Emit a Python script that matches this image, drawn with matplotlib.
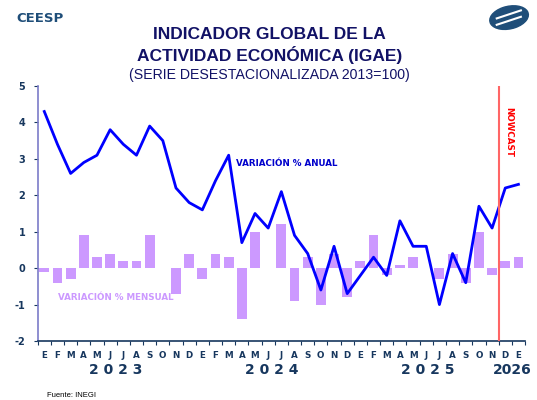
import numpy as np
import matplotlib
matplotlib.use("Agg")
from matplotlib import pyplot as plt
from matplotlib.patches import Ellipse
from matplotlib.transforms import blended_transform_factory

# Datos (ene-2023 a ene-2026)
meses = ['E', 'F', 'M', 'A', 'M', 'J', 'J', 'A', 'S', 'O', 'N', 'D'] * 3 + ['E']

anual = [4.3, 3.4, 2.6, 2.9, 3.1, 3.8, 3.4, 3.1, 3.9, 3.5, 2.2, 1.8,
         1.6, 2.4, 3.1, 0.7, 1.5, 1.1, 2.1, 0.9, 0.4, -0.6, 0.6, -0.7,
         -0.2, 0.3, -0.2, 1.3, 0.6, 0.6, -1.0, 0.4, -0.4, 1.7, 1.1, 2.2,
         2.3]

mensual = [-0.1, -0.4, -0.3, 0.9, 0.3, 0.4, 0.2, 0.2, 0.9, 0.0, -0.7, 0.4,
           -0.3, 0.4, 0.3, -1.4, 1.0, 0.0, 1.2, -0.9, 0.3, -1.0, 0.4, -0.8,
           0.2, 0.9, -0.2, 0.1, 0.3, 0.0, -0.3, 0.4, -0.4, 1.0, -0.2, 0.2,
           0.3]

anios = ['2 0 2 3', '2 0 2 4', '2 0 2 5', '2026']
pos_anios = [5.4, 17.3, 29.1, 35.55]
nowcast = 34.5

navy = '#17375E'
titulo_c = '#121266'

fig = plt.figure(figsize=(5.37, 4.0), dpi=100)
ax = fig.add_axes([0.0702, 0.1475, 0.9075, 0.6375])

x = np.arange(len(meses))
ax.bar(x, mensual, width=0.75, color='#CC99FF', zorder=2)
ax.plot(x, anual, color='#0000FF', lw=2, zorder=3)
ax.axvline(nowcast, color='#FF6666', lw=1.5, zorder=4)

ax.set_xlim(-0.5, 36.5)
ax.set_ylim(-2, 5)

ax.set_yticks(range(-2, 6))
ax.set_yticklabels([str(v) for v in range(-2, 6)], fontsize=7, fontweight='bold', color=navy)
ax.tick_params(axis='y', length=3, width=0.8, color=navy, pad=6)

ax.set_xticks(x)
ax.set_xticklabels(meses, fontsize=6.3, fontweight='bold', color=navy)
ax.tick_params(axis='x', which='major', length=0, pad=7)
ax.set_xticks(np.arange(-0.5, 37, 1), minor=True)
ax.tick_params(axis='x', which='minor', length=3, width=0.8, color=navy)

for s in ['top', 'right']:
    ax.spines[s].set_visible(False)
ax.spines['left'].set_color('#7B7BC8')
ax.spines['left'].set_linewidth(1.2)
ax.spines['bottom'].set_color(navy)
ax.spines['bottom'].set_linewidth(1.2)

trans = blended_transform_factory(ax.transData, ax.transAxes)
for a, p in zip(anios, pos_anios):
    ax.text(p, -0.115, a, transform=trans, ha='center', va='center',
            fontsize=10, fontweight='bold', color=navy, clip_on=False)

ax.text(18.4, 2.87, 'VARIACIÓN % ANUAL', fontsize=6.3, fontweight='bold',
        color='#0000CC', ha='center', va='center')
ax.text(5.4, -0.8, 'VARIACIÓN % MENSUAL', fontsize=6.3, fontweight='bold',
        color='#CC99FF', ha='center', va='center')
ax.text(35.3, 3.75, 'NOWCAST', fontsize=6.3, fontweight='bold', color='#FF0000',
        rotation=270, ha='center', va='center')

# Títulos
fig.text(0.502, 0.914, 'INDICADOR GLOBAL DE LA', fontsize=12.5, fontweight='bold',
         family='Liberation Sans', color=titulo_c, ha='center', va='center')
fig.text(0.502, 0.8625, 'ACTIVIDAD ECONÓMICA (IGAE)', fontsize=12.5, fontweight='bold',
         family='Liberation Sans', color=titulo_c, ha='center', va='center')
fig.text(0.502, 0.8125, '(SERIE DESESTACIONALIZADA 2013=100)', fontsize=10.2,
         family='Liberation Sans', color=titulo_c, ha='center', va='center')
fig.text(0.03, 0.954, 'CEESP', fontsize=9.5, fontweight='bold', color='#1F4E79',
         ha='left', va='center')
fig.text(0.087, 0.003, 'Fuente: INEGI', fontsize=5.5, family='Liberation Sans',
         color='black', ha='left', va='bottom')

# logo
logo = Ellipse((0.948, 0.956), 0.075, 0.055, angle=25, transform=fig.transFigure,
               color='#1F4E79')
fig.patches.append(logo)
for dy in (-0.008, 0.008):
    fig.lines.append(plt.Line2D([0.925, 0.97], [0.946 + dy, 0.966 + dy],
                                transform=fig.transFigure, color='white', lw=1.5))

fig.savefig('out.png', dpi=100)
